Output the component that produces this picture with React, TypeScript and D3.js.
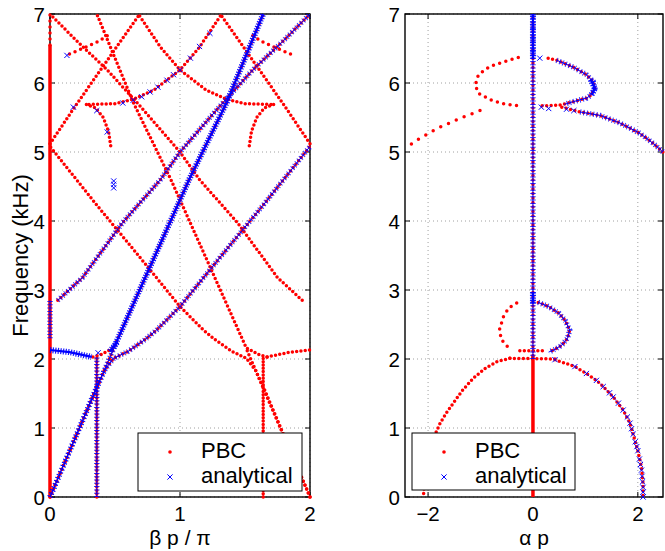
import React from "react";
import * as d3 from "d3";

type Pt = [number, number];

// ---------- axes / labels ----------
const freqTicks = [0, 1, 2, 3, 4, 5, 6, 7];
const betaTicks = [0, 1, 2];
const alphaTicks = [-2, 0, 2];
const freqDomain: Pt = [0, 7];
const betaDomain: Pt = [0, 2];
const alphaDomain: Pt = [-2.44, 2.48];
const legendLabels = ["PBC", "analytical"];
const yAxisLabel = "Frequency (kHz)";
const betaLabel = "\u03b2 p / \u03c0";
const alphaLabel = "\u03b1 p";

// ---------- left panel: PBC (beta p / pi, kHz) ----------
const pbcBetaSolid: Pt[][] = [[[0, 0], [0, 6.55]]];
const pbcBetaDense: Pt[][] = [
  [[0.36, 0], [0.36, 2.02]],
  [[1.64, 0], [1.64, 2.03]],
];
const pbcBetaCurves: Pt[][] = [
  [[0, 0], [0.49, 2.15]],
  [[0, 0], [0.36, 1.6], [0.42, 1.84], [0.49, 2.01], [0.6, 2.11], [0.73, 2.28], [0.82, 2.42], [1.0, 2.76], [1.32, 3.5], [1.64, 4.23], [2.0, 5.08]],
  [[0.33, 2.03], [0.39, 2.06], [0.46, 2.13], [0.49, 2.16], [1.07, 4.6], [1.36, 5.72], [1.64, 7.0]],
  [[0.06, 2.85], [0.25, 3.18], [0.56, 3.98], [0.85, 4.6], [1.0, 5.0], [1.3, 5.65], [1.56, 6.19], [1.8, 6.62], [2.0, 7.0]],
  [[0.3, 5.69], [0.5, 5.7], [0.65, 5.77], [0.8, 5.9], [1.0, 6.19], [1.15, 6.52], [1.31, 6.97]],
  [[2, 0], [1.51, 2.15]],
  [[2, 0], [1.64, 1.6], [1.58, 1.84], [1.51, 2.01], [1.4, 2.11], [1.27, 2.28], [1.18, 2.42], [1.0, 2.76], [0.68, 3.5], [0.36, 4.23], [0, 5.08]],
  [[1.67, 2.03], [1.61, 2.06], [1.54, 2.13], [1.51, 2.16], [0.93, 4.6], [0.64, 5.72], [0.36, 7.0]],
  [[1.94, 2.85], [1.75, 3.18], [1.44, 3.98], [1.15, 4.6], [1.0, 5.0], [0.7, 5.65], [0.44, 6.19], [0.2, 6.62], [0, 7.0]],
  [[1.7, 5.69], [1.5, 5.7], [1.35, 5.77], [1.2, 5.9], [1.0, 6.19], [0.85, 6.52], [0.69, 6.97]],
  [[1.67, 2.03], [1.85, 2.1], [2.0, 2.13]],
  [[0, 5.12], [0.2, 5.68], [0.4, 6.22], [0.69, 7.0]],
  [[2, 5.12], [1.8, 5.68], [1.6, 6.22], [1.31, 7.0]],
  [[0.28, 5.69], [0.35, 5.64], [0.41, 5.5], [0.45, 5.3], [0.47, 5.05]],
  [[1.72, 5.69], [1.65, 5.64], [1.59, 5.5], [1.55, 5.3], [1.53, 5.05]],
];
const pbcBetaSparse: Pt[][] = [
  [[0, 6.55], [0, 7]],
  [[0.15, 6.42], [0.25, 6.5], [0.37, 6.6], [0.47, 6.72]],
  [[1.85, 6.42], [1.75, 6.5], [1.63, 6.6], [1.53, 6.72]],
];

// ---------- left panel: analytical ----------
const anaBetaCurves: Pt[][] = [
  [[0, 0], [0.49, 2.15]],
  [[0, 0], [0.36, 1.6], [0.42, 1.84], [0.49, 2.01], [0.6, 2.11], [0.73, 2.28], [0.82, 2.42], [1.0, 2.76], [1.32, 3.5], [1.64, 4.23], [2.0, 5.08]],
  [[0.06, 2.85], [0.25, 3.18], [0.56, 3.98], [0.85, 4.6], [1.0, 5.0], [1.3, 5.65], [1.56, 6.19], [1.8, 6.62], [2.0, 7.0]],
  [[0.36, 0], [0.36, 2.02]],
  [[0, 2.3], [0, 2.85]],
];
const anaBetaThick: Pt[][] = [
  [[0.49, 2.16], [1.07, 4.6], [1.36, 5.72], [1.64, 7.0]],
  [[0, 2.13], [0.15, 2.1], [0.32, 2.03]],
  [[0.46, 2.11], [0.52, 2.25]],
];
const anaBetaPoints: Pt[] = [
  [0.56, 5.71], [0.64, 5.75], [0.705, 5.8], [0.77, 5.87], [0.83, 5.94], [0.9, 6.04], [0.95, 6.12],
  [1.0, 6.19], [1.08, 6.36], [1.15, 6.53], [1.23, 6.72],
  [0.13, 6.4], [0.18, 5.65], [0.36, 5.6], [0.44, 5.29], [0.49, 4.48], [0.49, 4.53], [0.49, 4.58], [0.37, 2.09],
];

// ---------- right panel: PBC (alpha p, kHz) ----------
const pbcAlphaSolid: Pt[][] = [[[0, 0], [0, 2.05]]];
const pbcAlphaCurves: Pt[][] = [
  [[0, 2.05], [0, 7]],
  [[-0.44, 2.01], [-0.69, 1.96], [-0.9, 1.87], [-1.14, 1.72], [-1.35, 1.54], [-1.52, 1.36], [-1.65, 1.22], [-1.77, 1.07], [-1.87, 0.9], [-1.95, 0.7], [-2.01, 0.5], [-2.05, 0.3], [-2.08, 0.1], [-2.09, 0]],
  [[0.42, 1.99], [0.8, 1.89], [1.02, 1.79], [1.21, 1.69], [1.34, 1.6], [1.53, 1.45], [1.72, 1.26], [1.85, 1.07], [1.91, 0.91], [2.0, 0.67], [2.07, 0.43], [2.1, 0.19], [2.1, 0]],
  [[-0.44, 2.01], [0.42, 2.0]],
  [[-0.25, 2.12], [0.26, 2.12]],
  [[0.1, 2.82], [0.3, 2.76], [0.5, 2.66], [0.62, 2.55], [0.7, 2.42], [0.66, 2.3], [0.55, 2.2], [0.42, 2.14], [0.3, 2.1]],
  [[0.29, 6.36], [0.45, 6.33], [0.77, 6.23], [1.02, 6.12], [1.15, 6.02], [1.18, 5.92], [1.1, 5.82], [1.02, 5.78], [0.77, 5.73], [0.52, 5.68], [0.3, 5.67], [0.13, 5.67]],
  [[0.55, 5.65], [0.9, 5.58], [1.28, 5.53], [1.66, 5.42], [2.04, 5.27], [2.3, 5.12], [2.48, 5.0]],
];
const pbcAlphaSparse: Pt[][] = [
  [[-0.31, 2.81], [-0.46, 2.74], [-0.56, 2.62], [-0.64, 2.42], [-0.6, 2.28], [-0.5, 2.19], [-0.41, 2.15]],
  [[-0.28, 6.37], [-0.5, 6.32], [-0.82, 6.24], [-1.04, 6.12], [-1.1, 5.97], [-1.04, 5.85], [-0.82, 5.76], [-0.57, 5.7], [-0.28, 5.67]],
];
const pbcAlphaVerySparse: Pt[][] = [
  [[-1.01, 5.6], [-1.39, 5.49], [-1.83, 5.34], [-2.22, 5.17], [-2.44, 5.05]],
];

// ---------- right panel: analytical ----------
const anaAlphaCurves: Pt[][] = [
  [[0, 2.0], [0, 7]],
  [[0.45, 6.33], [0.77, 6.23], [1.02, 6.12], [1.15, 6.02], [1.18, 5.92], [1.1, 5.82], [1.02, 5.78], [0.77, 5.73], [0.6, 5.69]],
  [[0.1, 2.82], [0.3, 2.76], [0.5, 2.66], [0.62, 2.55], [0.7, 2.42], [0.66, 2.3], [0.55, 2.2], [0.42, 2.14], [0.3, 2.1]],
  [[0.9, 5.58], [1.28, 5.53], [1.66, 5.42], [2.04, 5.27], [2.3, 5.12], [2.48, 5.0]],
];
const anaAlphaThick: Pt[][] = [
  [[0, 6.35], [0, 7]],
  [[0, 2.8], [0, 2.97]],
  [[1.1, 6.05], [1.18, 5.92], [1.12, 5.83]],
];
const anaAlphaPoints: Pt[] = [
  [0.13, 6.36], [0.16, 5.65], [0.3, 5.63], [0.64, 5.62], [0.78, 5.6],
  [0.42, 1.99], [0.8, 1.89], [1.02, 1.79], [1.21, 1.69], [1.34, 1.6], [1.46, 1.51], [1.53, 1.45],
  [1.63, 1.36], [1.72, 1.26], [1.8, 1.16], [1.85, 1.07], [1.88, 0.99], [1.91, 0.91], [1.95, 0.8],
  [1.98, 0.73], [2.0, 0.67], [2.03, 0.55], [2.05, 0.47], [2.07, 0.39], [2.08, 0.3], [2.09, 0.22],
  [2.1, 0.14], [2.1, 0.07], [2.1, 0.0],
];

// ---------- rendering ----------
const FONT = "'Liberation Sans', Arial, Helvetica, sans-serif";
const RED = "#ff0000";
const BLUE = "#0000ff";

type Box = { l: number; r: number; t: number; b: number };

interface PanelProps {
  box: Box;
  xDomain: Pt;
  xTicks: number[];
  xLabel: string;
  yLabel?: string;
  solid: Pt[][];
  dotGroups: { curves: Pt[][]; gap: number }[];
  blueCurves: Pt[][];
  blueThick: Pt[][];
  bluePts: Pt[];
  legendBox: { x: number; y: number; w: number; h: number };
}

const xMark = "M-2.6,-2.6L2.6,2.6M-2.6,2.6L2.6,-2.6";

function Panel(p: PanelProps) {
  const x = d3.scaleLinear().domain(p.xDomain).range([p.box.l, p.box.r]);
  const y = d3.scaleLinear().domain(freqDomain).range([p.box.b, p.box.t]);
  const line = d3.line<Pt>().x((d) => x(d[0])).y((d) => y(d[1]));
  const fmt = (v: number) => (v < 0 ? "\u2212" + Math.abs(v) : String(v));
  const { l, r, t, b } = p.box;
  const lg = p.legendBox;
  return (
    <g>
      {p.xTicks.map((v) => (
        <line key={"gx" + v} x1={x(v)} x2={x(v)} y1={t} y2={b} stroke="#a0a0a0" strokeDasharray="1 3" />
      ))}
      {freqTicks.map((v) => (
        <line key={"gy" + v} x1={l} x2={r} y1={y(v)} y2={y(v)} stroke="#a0a0a0" strokeDasharray="1 3" />
      ))}
      <rect x={l} y={t} width={r - l} height={b - t} fill="none" stroke="#000" strokeWidth={1.4} />
      {p.xTicks.map((v) => (
        <g key={"tx" + v}>
          <line x1={x(v)} x2={x(v)} y1={b} y2={b - 5} stroke="#000" />
          <line x1={x(v)} x2={x(v)} y1={t} y2={t + 5} stroke="#000" />
          <text x={x(v)} y={521} textAnchor="middle" fontSize={20.5} fontFamily={FONT}>
            {fmt(v)}
          </text>
        </g>
      ))}
      {freqTicks.map((v) => (
        <g key={"ty" + v}>
          <line x1={l} x2={l + 5} y1={y(v)} y2={y(v)} stroke="#000" />
          <line x1={r} x2={r - 5} y1={y(v)} y2={y(v)} stroke="#000" />
          <text x={l - 5} y={y(v) + 7.5} textAnchor="end" fontSize={20.5} fontFamily={FONT}>
            {fmt(v)}
          </text>
        </g>
      ))}
      <text x={(l + r) / 2} y={544.5} textAnchor="middle" fontSize={21} fontFamily={FONT}>
        {p.xLabel}
      </text>
      {p.yLabel && (
        <text
          transform={`translate(28,${(t + b) / 2}) rotate(-90)`}
          textAnchor="middle"
          fontSize={22}
          fontFamily={FONT}
        >
          {p.yLabel}
        </text>
      )}

      {/* PBC */}
      {p.solid.map((c, i) => (
        <path key={"s" + i} d={line(c) || ""} fill="none" stroke={RED} strokeWidth={3.5} />
      ))}
      {p.dotGroups.map((g, gi) =>
        g.curves.map((c, i) => (
          <path
            key={"d" + gi + "_" + i}
            d={line(c) || ""}
            fill="none"
            stroke={RED}
            strokeWidth={3.5}
            strokeLinecap="round"
            strokeLinejoin="round"
            strokeDasharray={`0 ${g.gap}`}
          />
        ))
      )}

      {/* analytical */}
      {p.blueCurves.map((c, i) => (
        <g key={"b" + i}>
          <path d={line(c) || ""} fill="none" stroke={BLUE} strokeWidth={1} />
          <path d={line(c) || ""} fill="none" stroke={BLUE} strokeWidth={5.5} strokeDasharray="1 2.3" strokeOpacity={0.8} />
        </g>
      ))}
      {p.blueThick.map((c, i) => (
        <g key={"bt" + i}>
          <path d={line(c) || ""} fill="none" stroke={BLUE} strokeWidth={2.2} />
          <path d={line(c) || ""} fill="none" stroke={BLUE} strokeWidth={6} strokeDasharray="1.2 1.4" strokeOpacity={0.9} />
        </g>
      ))}
      {p.bluePts.map((d, i) => (
        <path key={"bp" + i} d={xMark} transform={`translate(${x(d[0])},${y(d[1])})`} stroke={BLUE} strokeWidth={1} fill="none" />
      ))}

      {/* legend */}
      <rect x={lg.x} y={lg.y} width={lg.w} height={lg.h} fill="#fff" stroke="#000" strokeWidth={1} />
      <circle cx={lg.x + 32} cy={lg.y + 19} r={1.8} fill={RED} />
      <path d={xMark} transform={`translate(${lg.x + 32},${lg.y + 44})`} stroke={BLUE} strokeWidth={1} fill="none" />
      <text x={lg.x + 63} y={lg.y + 25} fontSize={22} fontFamily={FONT}>
        {legendLabels[0]}
      </text>
      <text x={lg.x + 63} y={lg.y + 50} fontSize={22} fontFamily={FONT}>
        {legendLabels[1]}
      </text>
    </g>
  );
}

export default function App() {
  return (
    <svg
      width={665}
      height={551}
      style={{ position: "absolute", left: 0, top: 0, background: "#fff" }}
    >
      <rect x={0} y={0} width={665} height={551} fill="#fff" />
      <Panel
        box={{ l: 50, r: 310, t: 14, b: 497 }}
        xDomain={betaDomain}
        xTicks={betaTicks}
        xLabel={betaLabel}
        yLabel={yAxisLabel}
        solid={pbcBetaSolid}
        dotGroups={[
          { curves: pbcBetaDense, gap: 3.3 },
          { curves: pbcBetaCurves, gap: 4.3 },
          { curves: pbcBetaSparse, gap: 6 },
        ]}
        blueCurves={anaBetaCurves}
        blueThick={anaBetaThick}
        bluePts={anaBetaPoints}
        legendBox={{ x: 138, y: 433, w: 164, h: 58 }}
      />
      <Panel
        box={{ l: 405, r: 663, t: 14, b: 497 }}
        xDomain={alphaDomain}
        xTicks={alphaTicks}
        xLabel={alphaLabel}
        solid={pbcAlphaSolid}
        dotGroups={[
          { curves: pbcAlphaCurves, gap: 4.5 },
          { curves: pbcAlphaSparse, gap: 6.5 },
          { curves: pbcAlphaVerySparse, gap: 8.5 },
        ]}
        blueCurves={anaAlphaCurves}
        blueThick={anaAlphaThick}
        bluePts={anaAlphaPoints}
        legendBox={{ x: 412, y: 433, w: 163, h: 57 }}
      />
    </svg>
  );
}
